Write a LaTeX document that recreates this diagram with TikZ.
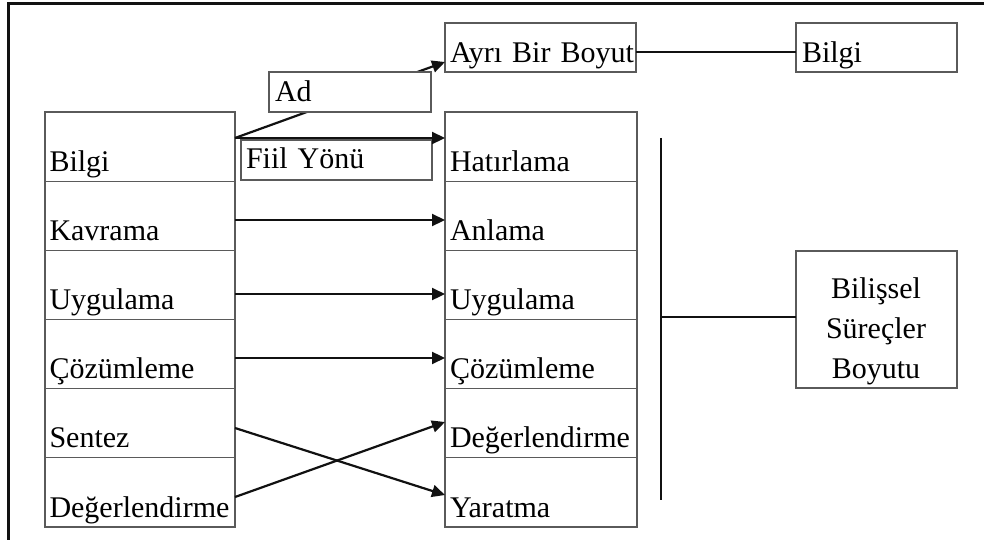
\documentclass[tikz,border=0pt]{standalone}
\usepackage{fontspec}
\setmainfont{Liberation Serif}
\usetikzlibrary{arrows.meta}
\definecolor{boxgray}{HTML}{5A5A5A}
\definecolor{ink}{HTML}{111111}
\begin{document}
\begin{tikzpicture}[x=1pt,y=-1pt,
  font=\fontsize{30pt}{40pt}\selectfont,
  cell/.style={draw=boxgray, line width=1.2pt, fill=white, anchor=north west,
    inner xsep=4.5pt, inner ysep=0pt, outer sep=0pt, align=left},
  rowcell/.style={cell, text height=59.17pt, text depth=10pt},
  arr/.style={draw=ink, line width=2.2pt, -{Triangle[length=13pt,width=12pt]}},
  plain/.style={draw=ink, line width=2.2pt}]
\useasboundingbox (0,0) rectangle (984,540);

% outer frame (left and top edges)
\draw[line width=2.5pt, ink] (8.7,541) -- (8.7,3.7) -- (985,3.7);

% left column: original taxonomy
\node[rowcell, text width=181pt] (L1) at (45,112)    {Bilgi};
\node[rowcell, text width=181pt] (L2) at (45,181.17) {Kavrama};
\node[rowcell, text width=181pt] (L3) at (45,250.33) {Uygulama};
\node[rowcell, text width=181pt] (L4) at (45,319.5)  {Çözümleme};
\node[rowcell, text width=181pt] (L5) at (45,388.67) {Sentez};
\node[rowcell, text width=181pt] (L6) at (45,457.83) {Değerlendirme};

% right column: revised taxonomy
\node[rowcell, text width=182pt, inner xsep=5pt] (R1) at (445,112)    {Hatırlama};
\node[rowcell, text width=182pt, inner xsep=5pt] (R2) at (445,181.17) {Anlama};
\node[rowcell, text width=182pt, inner xsep=5pt] (R3) at (445,250.33) {Uygulama};
\node[rowcell, text width=182pt, inner xsep=5pt] (R4) at (445,319.5)  {Çözümleme};
\node[rowcell, text width=182pt, inner xsep=5pt] (R5) at (445,388.67) {Değerlendirme};
\node[rowcell, text width=182pt, inner xsep=5pt] (R6) at (445,457.83) {Yaratma};

% top boxes
\node[cell, inner xsep=5pt, text width=181pt, text height=40pt, text depth=9pt] (ayri) at (445,23) {\mbox{Ayrı Bir Boyut}};
\node[cell, inner xsep=6pt, text width=149pt, text height=40pt, text depth=9pt] (bt) at (796,23) {Bilgi};

% "Fiil Yönü" box under the first arrow
\node[cell, inner xsep=5pt, text width=181pt, text height=28pt, text depth=12pt] (fiil) at (241,140) {Fiil Yönü};

% noun branch: arrow runs behind the "Ad" box
\draw[arr] ([yshift=8.58pt]L1.east) -- ([yshift=-14.5pt]ayri.west);
\node[cell, inner xsep=6pt, text width=150pt, text height=30pt, text depth=10pt] (ad) at (269,72) {Ad};

% verb branch and row mappings
\draw[arr] ([yshift=8.58pt]L1.east) -- ([yshift=8.58pt]R1.west);
\draw[arr] ([yshift=-4.25pt]L2.east) -- ([yshift=-4.25pt]R2.west);
\draw[arr] ([yshift=-9.1pt]L3.east) -- ([yshift=-9.1pt]R3.west);
\draw[arr] ([yshift=-3.9pt]L4.east) -- ([yshift=-3.9pt]R4.west);
\draw[arr] ([yshift=-4.75pt]L5.east) -- ([yshift=-2.6pt]R6.west);
\draw[arr] ([yshift=-4.6pt]L6.east) -- ([yshift=1.25pt]R5.west);

% knowledge dimension link
\draw[plain] ([yshift=-4.5pt]ayri.east) -- ([yshift=-4.5pt]bt.west);

% cognitive process dimension
\node[cell, minimum width=161pt, minimum height=137pt, inner sep=0pt] (bs) at (796,251) {};
\node[align=center, inner sep=0pt, anchor=base] (bstext) at (876,378) {Bilişsel\\Süreçler\\Boyutu};
\coordinate (vtop) at (661,138);
\coordinate (vbot) at (661,500);
\coordinate (jn) at (661,317);
\draw[plain] (vtop) -- (vbot);
\draw[plain] (jn) -- (jn -| bs.west);
\end{tikzpicture}
\end{document}
